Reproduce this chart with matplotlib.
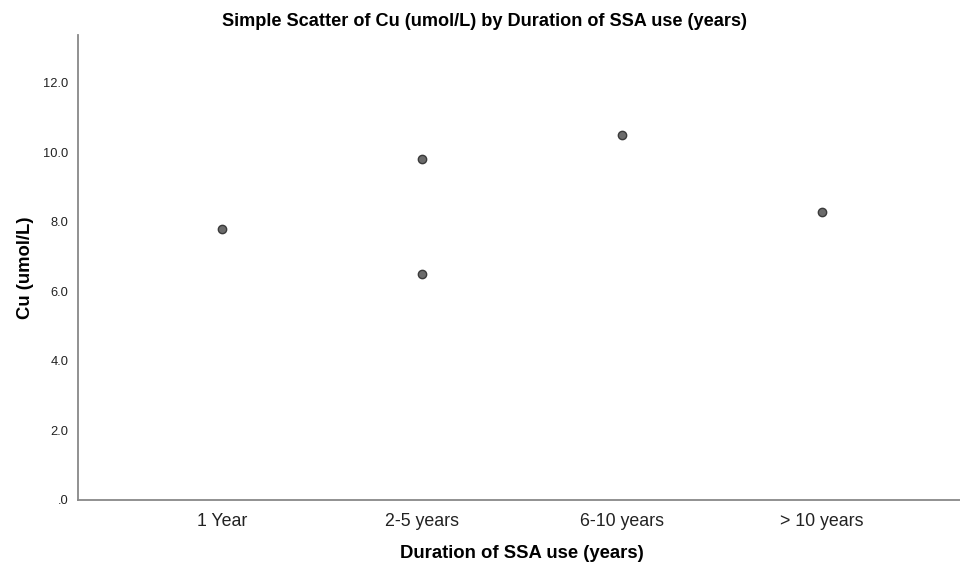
import matplotlib
matplotlib.use("Agg")
import matplotlib.pyplot as plt

# Copper by duration of SSA use
categories = ["1 Year", "2-5 years", "6-10 years", "> 10 years"]
point_category = ["1 Year", "2-5 years", "2-5 years", "6-10 years", "> 10 years"]
cu_values = [7.8, 9.8, 6.5, 10.5, 8.3]
y_ticks = [0, 2, 4, 6, 8, 10, 12]
y_tick_labels = [".0", "2.0", "4.0", "6.0", "8.0", "10.0", "12.0"]

plt.rcParams["font.family"] = ["Liberation Sans", "DejaVu Sans"]

fig = plt.figure(figsize=(9.6, 5.71), dpi=100)
ax = fig.add_axes([78 / 960, 1 - 500 / 571, 1 - 78 / 960, (500 - 35) / 571])

xpos = [categories.index(c) for c in point_category]
ax.scatter(xpos, cu_values, s=36, facecolor="#6b6b6b", edgecolor="#3a3a3a",
           linewidth=1.0, zorder=3, clip_on=False)

ax.set_xlim(-0.72, 3.69)
ax.set_ylim(0, 13.38)
ax.set_xticks(range(len(categories)))
ax.set_xticklabels(categories, fontsize=12.8, color="#222222")
ax.set_yticks(y_ticks)
ax.set_yticklabels(y_tick_labels, fontsize=9.3, color="#222222")
ax.tick_params(axis="both", length=0)
ax.tick_params(axis="x", pad=9)
ax.tick_params(axis="y", pad=7)

for side in ("top", "right"):
    ax.spines[side].set_visible(False)
for side in ("left", "bottom"):
    ax.spines[side].set_color("#888888")
    ax.spines[side].set_linewidth(1.3)

ax.set_xlabel("Duration of SSA use (years)", fontsize=13.3, fontweight="bold")
ax.xaxis.set_label_coords((522 - 78) / 882, -(553 - 500) / 465)
ax.xaxis.label.set_va("center")
ax.set_ylabel("Cu (umol/L)", fontsize=13.3, fontweight="bold")
ax.yaxis.set_label_coords((25 - 78) / 882, (500 - 268) / 465)
ax.yaxis.label.set_va("center")
fig.text(484 / 960, 1 - 21 / 571, "Simple Scatter of Cu (umol/L) by Duration of SSA use (years)",
         ha="center", va="center", fontsize=13.1, fontweight="bold")

fig.savefig("out.png", dpi=100, facecolor="white")
